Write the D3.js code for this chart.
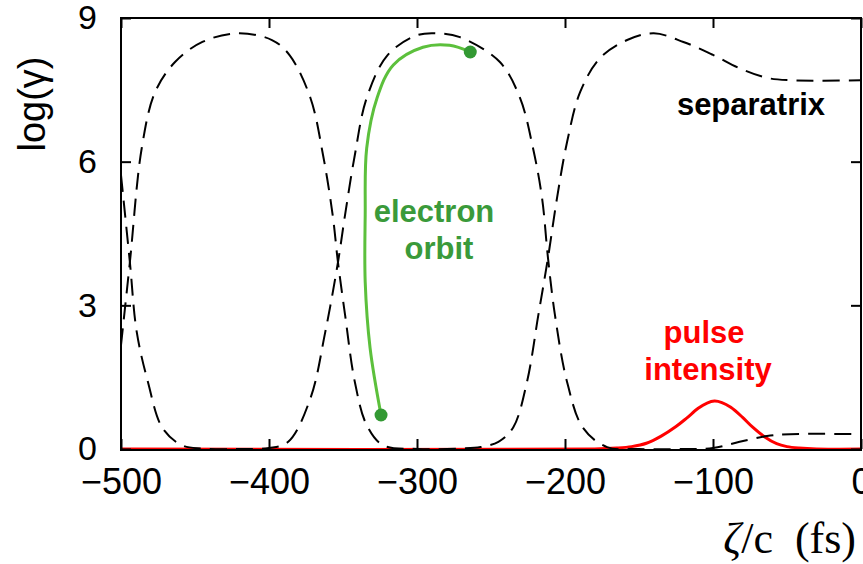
<!DOCTYPE html>
<html>
<head>
<meta charset="utf-8">
<script src="https://cdn.jsdelivr.net/npm/d3@7"></script>
<style>
  body { margin: 0; background: #fff; }
  svg { display: block; font-family: "Liberation Sans", Arial, sans-serif; }
</style>
</head>
<body>
<div id="chart"></div>
<script>
// separatrix, branch A (starts high at the left edge)
const sepAx = [-500, -494, -489.4, -481.8, -472, -459, -445, -420, -400, -387, -372, -362, -353.4, -348.6, -342, -334, -320, -300, -286, -271, -244, -230.4, -221.6, -215.5, -211.5, -206.8, -198.6, -187.8, -171.6, -150, -120, -100, -82, -63.5, -48, 0];
const sepAy = [5.72, 3.9, 2.45, 1.40, 0.44, 0.08, 0.01, 0, 0.02, 0.15, 1.06, 2.44, 3.9, 4.89, 6.14, 7.33, 8.22, 8.64, 8.68, 8.6, 8.08, 7.33, 6.28, 5.24, 3.99, 2.80, 1.40, 0.44, 0.04, 0, 0, 0.02, 0.15, 0.27, 0.31, 0.31];

// separatrix, branch B (starts low at the left edge)
const sepBx = [-500, -494, -486, -477, -463.5, -445, -421, -398, -386, -372, -363.5, -357, -353.4, -348.6, -342, -334, -323, -300, -270, -257, -245, -235, -225.7, -218, -211.5, -205.4, -198.6, -189.8, -176.4, -158, -140, -120, -100, -82, -63.5, -48, 0];
const sepBy = [2.17, 3.9, 6.28, 7.45, 8.08, 8.5, 8.68, 8.54, 8.22, 7.33, 6.14, 4.89, 3.9, 2.80, 1.40, 0.50, 0.08, 0, 0.01, 0.04, 0.15, 0.45, 1.40, 2.80, 3.99, 5.24, 6.41, 7.45, 8.16, 8.54, 8.68, 8.5, 8.23, 7.95, 7.75, 7.7, 7.7];

// electron orbit
const orbitX = [-324.3, -331.7, -335, -335, -334, -327, -316, -296, -278, -264];
const orbitY = [0.71, 2.11, 3.49, 4.89, 6.28, 7.33, 8.02, 8.39, 8.43, 8.29];

// pulse intensity
const pulseX = [-500, -180, -165, -155, -145, -135, -125, -118, -110, -104, -99, -94, -88, -80, -73, -65, -57, -50, -42, -30, 0];
const pulseY = [0, 0, 0.02, 0.05, 0.12, 0.27, 0.47, 0.64, 0.85, 0.96, 1.0, 0.97, 0.87, 0.66, 0.45, 0.25, 0.11, 0.05, 0.02, 0, 0];

const xTicks = [-500, -400, -300, -200, -100, 0];
const yTicks = [0, 3, 6, 9];

const W = 863, H = 564;
const margin = { left: 121, top: 18, right: 2, bottom: 115 };

const svg = d3.select("#chart").append("svg")
    .attr("width", W)
    .attr("height", H);

const x = d3.scaleLinear().domain([-500, 0]).range([margin.left, W - margin.right]);
const y = d3.scaleLinear().domain([0, 9]).range([H - margin.bottom, margin.top]);

const zip = (xs, ys) => xs.map((v, i) => [v, ys[i]]);

const line = d3.line()
    .x(d => x(d[0]))
    .y(d => y(d[1]))
    .curve(d3.curveCatmullRom.alpha(0.5));

const plot = svg.append("g");

// pulse (drawn first so the frame sits on its base line)
plot.append("path")
    .datum(zip(pulseX, pulseY))
    .attr("d", line)
    .attr("fill", "none")
    .attr("stroke", "#ff0000")
    .attr("stroke-width", 3);

// separatrix
[zip(sepAx, sepAy), zip(sepBx, sepBy)].forEach(pts => {
    plot.append("path")
        .datum(pts)
        .attr("d", line)
        .attr("fill", "none")
        .attr("stroke", "#000")
        .attr("stroke-width", 2)
        .attr("stroke-dasharray", "17 9");
});

// electron orbit
const orbit = zip(orbitX, orbitY);
plot.append("path")
    .datum(orbit)
    .attr("d", line)
    .attr("fill", "none")
    .attr("stroke", "#5cc03c")
    .attr("stroke-width", 3);

plot.selectAll("circle.end")
    .data([orbit[0], orbit[orbit.length - 1]])
    .join("circle")
    .attr("class", "end")
    .attr("cx", d => x(d[0]))
    .attr("cy", d => y(d[1]))
    .attr("r", 6.5)
    .attr("fill", "#339933");

// frame
svg.append("rect")
    .attr("x", x(-500))
    .attr("y", y(9))
    .attr("width", x(0) - x(-500))
    .attr("height", y(0) - y(9) + 1)
    .attr("fill", "none")
    .attr("stroke", "#000")
    .attr("stroke-width", 2);

// axes with inward ticks
const fmt = d3.format("");
const axBottom = svg.append("g")
    .attr("transform", `translate(0,${y(0)})`)
    .call(d3.axisBottom(x).tickValues(xTicks).tickFormat(fmt).tickSize(-10).tickPadding(19));
const axLeft = svg.append("g")
    .attr("transform", `translate(${x(-500)},0)`)
    .call(d3.axisLeft(y).tickValues(yTicks).tickFormat(fmt).tickSize(-10).tickPadding(24));
const axTop = svg.append("g")
    .attr("transform", `translate(0,${y(9)})`)
    .call(d3.axisTop(x).tickValues(xTicks).tickFormat("").tickSize(-10));
const axRight = svg.append("g")
    .attr("transform", `translate(${x(0)},0)`)
    .call(d3.axisRight(y).tickValues(yTicks).tickFormat("").tickSize(-10));

[axBottom, axLeft, axTop, axRight].forEach(g => {
    g.select(".domain").remove();
    g.selectAll(".tick line").attr("stroke", "#000").attr("stroke-width", 2);
});
axBottom.selectAll("text").attr("font-size", 36).attr("fill", "#000")
    .style("font-family", "'Liberation Sans', Arial, sans-serif");
axLeft.selectAll("text").attr("font-size", 34).attr("fill", "#000")
    .style("font-family", "'Liberation Sans', Arial, sans-serif");

// axis titles
svg.append("text")
    .attr("transform", "translate(45,104) rotate(-90)")
    .attr("text-anchor", "middle")
    .attr("font-size", 38)
    .text("log(γ)");

const xt = svg.append("text")
    .attr("x", 856)
    .attr("y", 553)
    .attr("text-anchor", "end")
    .attr("font-size", 44)
    .style("font-family", "'Liberation Serif', 'Times New Roman', serif")
    .style("white-space", "pre");
xt.append("tspan").attr("font-style", "italic").text("ζ");
xt.append("tspan").text("/c  (fs)");

// annotations
const notes = [
    { text: "separatrix", x: 751, y: 115, color: "#000" },
    { text: "electron", x: 434, y: 222, color: "#3a9a3a" },
    { text: "orbit", x: 439, y: 259, color: "#3a9a3a" },
    { text: "pulse", x: 704, y: 343, color: "#ff0000" },
    { text: "intensity", x: 708, y: 380, color: "#ff0000" }
];
svg.selectAll("text.note")
    .data(notes)
    .join("text")
    .attr("class", "note")
    .attr("x", d => d.x)
    .attr("y", d => d.y)
    .attr("text-anchor", "middle")
    .attr("font-size", 31)
    .attr("font-weight", "bold")
    .attr("fill", d => d.color)
    .text(d => d.text);
</script>
</body>
</html>
